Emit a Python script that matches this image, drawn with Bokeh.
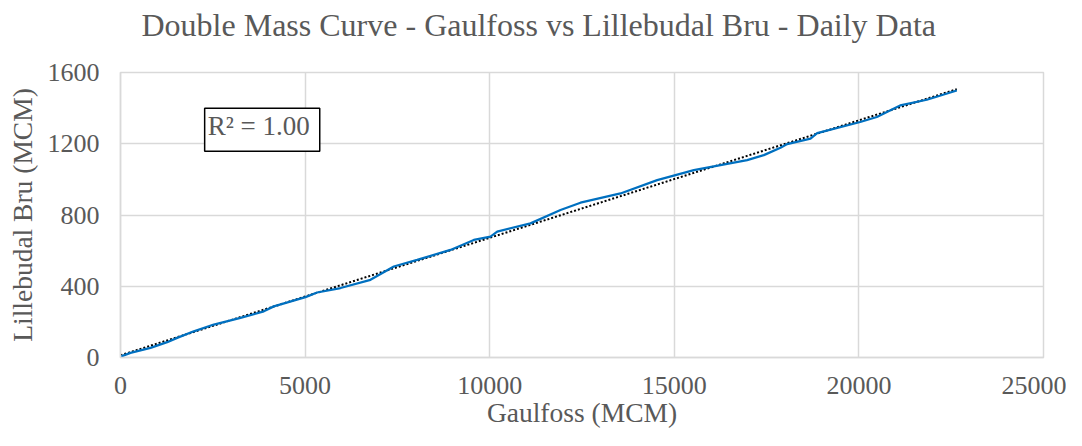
import numpy as np
from bokeh.plotting import figure
from bokeh.models import Range1d, FixedTicker, Label, BasicTickFormatter, Title
from bokeh.embed import file_html
from bokeh.resources import INLINE

# Cumulative flows (MCM)
gaulfoss_cum = [0, 271, 813, 1264, 1535, 1986, 2528, 3250, 3882, 4153, 5011, 5327,
                5959, 6771, 7403, 8035, 8938, 9570, 10022, 10203, 11105, 11918,
                12459, 13543, 14536, 15529, 16974, 17425, 17876, 18058, 18689,
                18870, 20035, 20486, 20937, 21118, 21840, 22652]
lillebudal_cum = [5, 26, 54, 86, 110, 147, 185, 222, 259, 287, 339, 365,
                  390, 436, 511, 548, 604, 660, 679, 707, 753, 828,
                  869, 921, 996, 1052, 1108, 1136, 1178, 1198, 1229,
                  1260, 1322, 1350, 1397, 1415, 1447, 1499]
x_ticks = [0, 5000, 10000, 15000, 20000, 25000]
y_ticks = [0, 400, 800, 1200, 1600]
title_text = "Double Mass Curve - Gaulfoss vs Lillebudal Bru - Daily Data"
r2_text = "R² = 1.00"

FONT = "Liberation Serif"
GREY = "#595959"
GRID = "#d9d9d9"

p = figure(width=1066, height=430, output_backend="svg", toolbar_location=None,
           x_range=Range1d(0, 25000), y_range=Range1d(0, 1600),
           min_border_left=120, min_border_right=23, min_border_top=72,
           min_border_bottom=72)

p.outline_line_color = GRID
p.outline_line_width = 1.5

# trendline (least squares fit)
gx = np.array(gaulfoss_cum, dtype=float)
ly = np.array(lillebudal_cum, dtype=float)
slope, intercept = np.polyfit(gx, ly, 1)
tx = np.array([0, gx.max()])
p.line(tx, slope * tx + intercept, line_color="black", line_width=2, line_dash="2 2")

p.line(gaulfoss_cum, lillebudal_cum, line_color="#0070C0", line_width=2.25)

for ax in (p.xaxis[0], p.yaxis[0]):
    ax.axis_line_color = GRID
    ax.axis_line_width = 1.5
    ax.major_tick_line_color = None
    ax.minor_tick_line_color = None
    ax.major_tick_out = 0
    ax.major_tick_in = 0
    ax.minor_tick_out = 0
    ax.minor_tick_in = 0
    ax.major_label_text_font = FONT
    ax.major_label_text_font_size = "26px"
    ax.major_label_text_color = GREY
    ax.axis_label_text_font = FONT
    ax.axis_label_text_font_size = "27.5px"
    ax.axis_label_text_color = GREY
    ax.axis_label_text_font_style = "normal"
    ax.formatter = BasicTickFormatter(use_scientific=False)

p.xaxis.ticker = FixedTicker(ticks=x_ticks)
p.yaxis.ticker = FixedTicker(ticks=y_ticks)
p.xaxis.major_label_standoff = 19
p.yaxis.major_label_standoff = 21
p.xaxis.axis_label = "Gaulfoss (MCM)"
p.yaxis.axis_label = "Lillebudal Bru (MCM)"
p.xaxis.axis_label_standoff = 0
p.yaxis.axis_label_standoff = 7

p.grid.grid_line_color = GRID
p.grid.grid_line_width = 1.5
p.xgrid.ticker = FixedTicker(ticks=x_ticks)
p.ygrid.ticker = FixedTicker(ticks=y_ticks)

# spacer between frame and title, then the title itself
spacer = Title(text=" ", text_font_size="1px", standoff=27)
p.add_layout(spacer, "above")
main_title = Title(text=title_text, text_font=FONT, text_font_size="32px",
                   text_color=GREY, text_font_style="normal", align="left",
                   offset=21, standoff=0)
p.add_layout(main_title, "above")

r2 = Label(x=3838, y=1278, text=r2_text, text_align="center", text_baseline="middle",
           text_font=FONT, text_font_size="27px", text_color=GREY,
           border_line_color="black", border_line_width=1.5,
           background_fill_color="white", padding=(3, 10, 3, 10))
p.add_layout(r2)

open("out.html", "w").write(file_html(p, INLINE))
